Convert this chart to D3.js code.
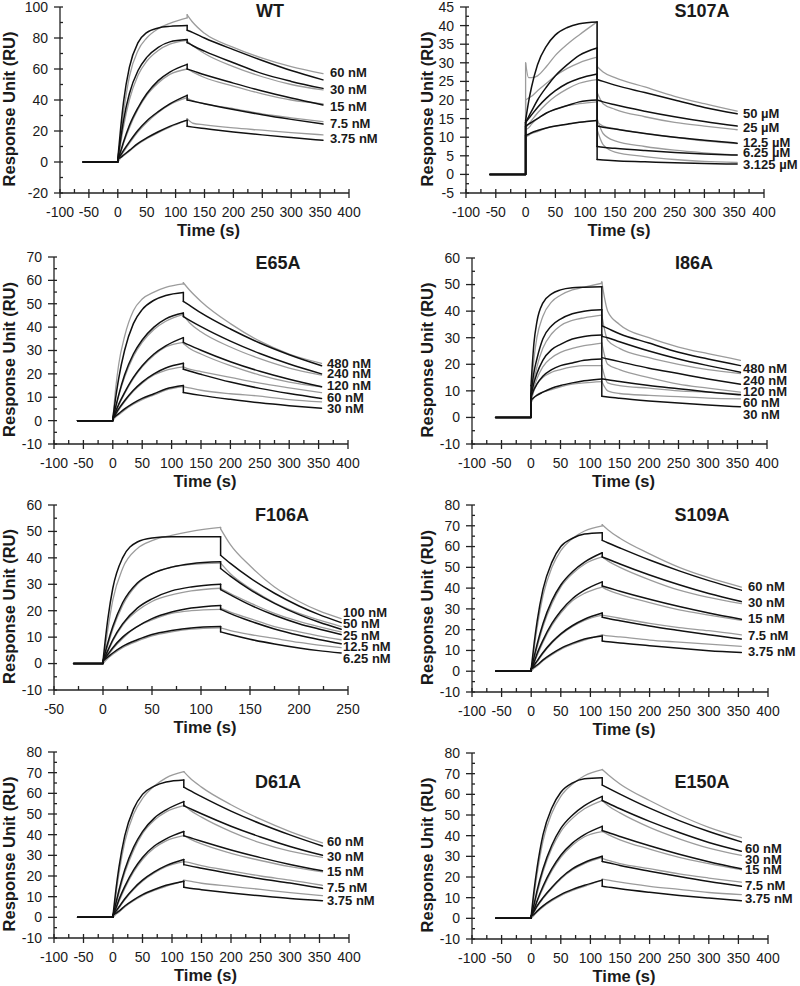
<!DOCTYPE html>
<html><head><meta charset="utf-8">
<script src="https://cdn.jsdelivr.net/npm/d3@7"></script>
<style>body{margin:0;background:#fff}svg{display:block}</style>
</head><body><svg id="c" width="800" height="986"></svg>
<script>
// ---------- DATA ----------
const panelNames = ["WT","S107A","E65A","I86A","F106A","S109A","D61A","E150A"];
const xDomains = [[-100,400],[-100,400],[-100,400],[-100,400],[-50,250],[-100,400],[-100,400],[-100,400]];
const yDomains = [[-20,100],[-5,45],[-10,70],[-10,60],[-10,60],[-10,80],[-10,80],[-10,80]];
const yTickSteps = [20,5,10,10,10,10,10,10];
const xTickSteps = [50,50,50,50,50,50,50,50];
const baselineStart = [-60,-60,-60,-60,-30,-60,-60,-60];
const tAssoc = [0,5,10,20,35,50,70,90,120];
const tDiss = [120,130,150,200,250,300,355];
const tDissF106A = [120,130,150,175,200,220,243];

const concNM = ["60 nM","30 nM","15 nM","7.5 nM","3.75 nM"];
const concS107A = ["50 µM","25 µM","12.5 µM","6.25 µM","3.125 µM"];
const concE65A = ["480 nM","240 nM","120 nM","60 nM","30 nM"];
const concF106A = ["100 nM","50 nM","25 nM","12.5 nM","6.25 nM"];

// label heights (RU)
const labelWT = [57.9,46.5,35.8,25.1,15.1];
const labelS107A = [16.5,12.7,8.6,5.8,2.8];
const labelE65A = [24.6,20.3,15,9.9,5];
const labelI86A = [18.3,14.1,9.9,5.8,1.3];
const labelF106A = [19.3,15,10.6,6.4,2];
const labelS109A = [40.6,33,25.3,17.3,9.3];
const labelD61A = [36.5,29.5,22.3,14.7,8.2];
const labelE150A = [34,28.6,23.5,15.9,9.7];

// WT
const wtFitA = [[2,22,39,61,77,83.5,86.5,87.5,88],[2,15,27,44,59,67.5,74,77.5,79],[2,7,13,23.5,35,44,52.5,58,63],[2,4.5,7.5,13,20.5,26.5,32.5,37.5,43],[2,3,4.5,7.5,12,15.5,19.5,23,27]];
const wtFitD = [[85,83.5,80,72.5,65.5,59,53],[77,75,71.5,64,57,52,47.5],[60,58.8,56.3,50.9,45.8,41.3,36.8],[40,39.2,37.6,33.9,30.5,27.5,24.5],[23,22.5,21.6,19.4,17.5,15.8,14]];
const wtExpA = [[0,17,32,55,72,80,86,89.5,93],[0,12,23,40,56,65,72,76,78.5],[0,6,12,22,34,43,51,56.5,60],[0,3.5,6.5,12,19.5,25.5,32,37,41.5],[0,2.5,4,7,11.5,15,19,22.5,27]];
const wtExpD = [[95,90,83,74,67,61.5,57],[78,75,70,61.5,55,50,46.5],[60,58,54.5,49,44,40,37.5],[41,39.5,37.5,34.5,31,28.5,26],[28,25,24,22,20.5,19,17.5]];
// S107A
const s107FitA = [[14.5,19.5,23.5,29.5,34.5,37.5,39.5,40.5,41],[14,15.5,17,20,23.5,26.5,29.5,32,34],[14,15,16,18,20.5,22.5,24.5,25.8,27],[13,13.5,14,15,16.5,17.5,18.5,19.5,20],[10.5,10.8,11.2,11.8,12.5,13,13.5,14,14.5]];
const s107FitD = [[25.5,25,24,22,20,18,16.3],[20,19.5,18.7,17,15.5,14.2,13],[13,12.7,12.2,11,10,9.2,8.4],[7.5,7.3,7,6.4,5.9,5.5,5.2],[4,3.9,3.7,3.4,3.1,2.9,2.8]];
const s107ExpA = [[30,26,26,26.5,29,32,35,37.5,41],[20,20.5,21,22.5,24.5,26.5,28.5,30,31.5],[12.5,13.5,14.5,16.5,19,21,23,24.5,25.5],[12,12.5,13.5,15,16.5,17.5,18.5,19,19.5],[10,10.5,11,11.5,12.5,13,13.5,14,14.5]];
const s107ExpD = [[29,27.5,26,23.5,21,19,17],[22,19,17.5,15.5,14,13,12],[14,13,12.3,11,10,9,8.3],[15,11,9,7.5,6.5,5.8,5.2],[12,8,6,4.8,4,3.5,3.2]];
// E65A
const e65FitA = [[1,10,18,30,41.5,47.5,51.5,53.5,54.8],[1,6,11,19.5,28.5,34.5,40,43.5,46],[1,4,7,12,18.5,23.5,28.5,32,35.5],[1,3,5,8.5,13,16.5,20,22.5,24.5],[1,2,3,5,7.5,9.5,11.5,13.5,15]];
const e65FitD = [[51,49.4,46.1,39.2,33.2,28.2,23.5],[44.5,43,40.2,34,28.7,24.2,20],[33.5,32.3,30.1,25.2,21.1,17.7,14.5],[22,21.2,19.8,16.5,13.8,11.6,9.5],[12,11.6,10.8,9.1,7.6,6.4,5.3]];
const e65ExpA = [[0,14,24,36,47,52,55,57,58.5],[0,5.5,10.5,18.5,27.5,33.5,39,42.5,45.5],[0,3.5,6.5,11.5,18,23,28,31.5,33.5],[0,2.5,4.5,8,12.5,16,19.5,21.5,23],[0,1.5,2.5,4.5,7,9,11,13,14.5]];
const e65ExpD = [[59,56,51,41.5,34,28.5,24.5],[45,42,38,31.5,26.5,22.5,19.5],[33,31,28.5,23.5,19.5,16.5,14.5],[23,22,21,18.5,16,14,12],[14.5,14,13,11.5,10.5,9,8]];
// I86A
const i86FitA = [[12,28,36,43,46.5,48,48.8,49,49.2],[9,17,22,29.5,34.5,37,39,40,40.5],[8,13,16.5,21.5,25.5,27.5,29.5,30.5,31],[7.5,10.5,12.5,15.5,18,19.5,20.5,21.5,22],[6.5,7.5,8.3,9.5,11,12,13,13.8,14.5]];
const i86FitD = [[34.5,33.5,31.5,28,24.5,22,19.5],[30.5,30,28.5,25,22,19.5,17],[22.5,22,21,18.5,16.5,14.5,12.5],[14.5,14.2,13.5,12,10.8,9.6,8.5],[8,7.7,7.2,6.2,5.4,4.7,4]];
const i86ExpA = [[8,22,30,38,43.5,46,48,49,50.5],[7,14,19,26,31.5,34.5,36.5,37.5,38.5],[6,11,14.5,19,22.5,24.5,26,27,28],[6,10,12.5,15,17,18,19,19.5,19.5],[5.5,7.5,8.5,9.5,10.5,11.5,12.5,13,13.5]];
const i86ExpD = [[51,40,35,30,26.5,24,21.5],[38.5,29,26,22.5,20,18,16.5],[28,20,18,15,12.5,11,9.5],[19.5,13,12,11,10,9.5,8.8],[13.5,10,9,8.3,7.8,7.3,7]];
// F106A
const f106FitA = [[1,17,28.5,40,46,47.5,48,48,48],[1,8,14,23,30.5,34,36.5,37.8,38.5],[1,5,9,15,21,24.5,27.5,29,30],[1,3.5,6,10,14,17,19.5,21,22],[1,2.5,4,6.5,9,11,12.5,13.5,14]];
const f106FitD = [[41,37.9,32.4,26.6,21.8,18.6,15.5],[36,33.1,28,22.8,18.5,15.7,13],[28,26,22.2,18.3,15.1,13.1,11],[20.5,18.9,16.1,13.1,10.7,9.1,7.5],[12,11,9.2,7.4,5.9,4.9,4]];
const f106ExpA = [[0,13,24,36,43.5,46.5,48.5,50,51.5],[0,7,13,22,30,34,36.5,37.5,38],[0,4.5,8.5,14.5,20,23.5,26,27.5,28.5],[0,3,5.5,9.5,14,16.5,19,20,20.5],[0,2,3.5,6,8.5,10.5,12,13,13.5]];
const f106ExpD = [[51,45,37,29,23.5,20,17],[38,34,28.5,23,19,16.5,14],[28.5,26.5,23,19,16,14,12],[21,19.5,17,14,12,10.5,9],[13.5,12.5,11,9.5,8,7,6]];
// S109A
const s109FitA = [[1,13.5,24,39.5,52.5,60,64,66,66.7],[1,7,13,23,34,41.5,48,52.5,57],[1,4.5,8.5,15,23,29,35,39,43],[1,3,5,9,14,18,22,25,28],[1,2,3,5.5,8.5,11,13.5,15.5,17]];
const s109FitD = [[63,61.7,59.3,53.5,48.3,43.6,39],[55,53.9,51.6,46.3,41.6,37.4,33.5],[41,40.2,38.5,34.6,31.1,28,25],[26,25.4,24.3,21.8,19.6,17.5,15.5],[14.5,14.2,13.6,12.3,11,9.9,9]];
const s109ExpA = [[0,11,21,36.5,50,58,64,67.5,70],[0,6,11.5,21.5,32.5,40.5,47,51.5,55],[0,4,7.5,14,22,28,34,37.5,40.5],[0,2.5,4.5,8.5,13.5,17.5,21.5,24.5,27],[0,1.5,2.5,5,8,10.5,13,15,17.5]];
const s109ExpD = [[70.5,68,64,56.5,50,45,40.5],[55,53,50,44,39,35.5,32.5],[40.5,39,37,33,29.5,27,24.5],[27,26.5,25.5,23,21,19.5,17.5],[17.5,17,16.5,15,14,13,12]];
// D61A
const d61FitA = [[1,13.5,24,39.5,52.5,59.5,63.5,65.5,66.5],[1,7,13,23,34,41.5,48,52,56],[1,4.5,8.5,15,23,29,34.5,38,41.5],[1,3,5,9,14,18,22,25,28],[1,2,3,5.5,8.5,11,13.5,15.5,17.5]];
const d61FitD = [[63,61.4,58.4,51.4,45.3,39.9,34.5],[54,52.7,50.1,44.1,38.9,34.3,30],[39.5,38.6,36.8,32.6,28.9,25.6,22.5],[25.5,24.9,23.8,21.1,18.7,16.6,14],[14.5,14.1,13.4,11.8,10.4,9.1,8]];
const d61ExpA = [[0,11,21,36.5,50,57.5,63.5,67.5,70.5],[0,6,11.5,21.5,32.5,40.5,47,51,54],[0,4,7.5,14,22,28,33.5,37,39.5],[0,2.5,4.5,8.5,13.5,17.5,21.5,24.5,27],[0,1.5,2.5,5,8,10.5,13,15,17.5]];
const d61ExpD = [[70.5,67.5,63,54.5,47.5,41.5,36],[54.5,52,48.5,41.5,36,32,29],[39.5,38,35.5,31,27.5,24.5,22],[27,26.5,25,22.5,20,18,15.5],[18,17.5,16.5,15,13.5,12,10.5]];
// E150A
const e150FitA = [[1,14,24.5,40.5,53.5,61,65.5,67.5,68],[1,7,13.5,24,35.5,43.5,50,54.5,59],[1,4.5,8.5,15.5,24,30.5,36.5,40.5,44.5],[1,3.5,6,10,15,19.5,24,27,30],[1,2,3.5,6,9,11.5,14,16,18.5]];
const e150FitD = [[64.5,63,60.1,53.3,47.3,42,37],[57,55.7,53,46.9,41.5,36.7,32.5],[42.5,41.5,39.6,35.1,31,27.4,24],[27.5,26.9,25.6,22.8,20.2,17.8,15.5],[15.5,15.1,14.3,12.6,11.1,9.8,8.5]];
const e150ExpA = [[0,11.5,21.5,37.5,51,59,65,69,72],[0,6,12,22.5,34,42,48.5,53,57],[0,4,8,14.5,23,29.5,35.5,39.5,42],[0,3,5.5,9.5,14.5,19,23.5,26.5,29.5],[0,1.5,3,5.5,8.5,11,13.5,15.5,18.5]];
const e150ExpD = [[72,69.5,65,57,50,44,39],[57,54.5,51,44,38.5,34,30.5],[42,40.5,38,33.5,29.5,26.5,23.5],[29,28,26.5,24,21.5,19.5,17.5],[19,18.5,17.5,15.5,14,12.5,11.5]];

// ---------- LAYOUT ----------
const layout = [
  {l:60,t:7,r:349,b:193},{l:466,t:7,r:764,b:193},
  {l:54,t:257,r:348,b:444},{l:472,t:258,r:767,b:444},
  {l:54,t:505,r:348,b:690},{l:472,t:505,r:768,b:692},
  {l:54,t:752,r:349,b:938},{l:472,t:753,r:768,b:939}
];
const titleCenters = [[270,11],[702,11],[278,263],[694,263],[282,515],[702,515],[278,782],[702,782]];
const concLabelX = [330,743,327,743,343,748,327,745];
const yTitleX = [9,427,9,427,9,427,9,427];

const panels = [
  {fa:wtFitA,fd:wtFitD,ea:wtExpA,ed:wtExpD,conc:concNM,lab:labelWT,td:tDiss},
  {fa:s107FitA,fd:s107FitD,ea:s107ExpA,ed:s107ExpD,conc:concS107A,lab:labelS107A,td:tDiss},
  {fa:e65FitA,fd:e65FitD,ea:e65ExpA,ed:e65ExpD,conc:concE65A,lab:labelE65A,td:tDiss},
  {fa:i86FitA,fd:i86FitD,ea:i86ExpA,ed:i86ExpD,conc:concE65A,lab:labelI86A,td:tDiss},
  {fa:f106FitA,fd:f106FitD,ea:f106ExpA,ed:f106ExpD,conc:concF106A,lab:labelF106A,td:tDissF106A},
  {fa:s109FitA,fd:s109FitD,ea:s109ExpA,ed:s109ExpD,conc:concNM,lab:labelS109A,td:tDiss},
  {fa:d61FitA,fd:d61FitD,ea:d61ExpA,ed:d61ExpD,conc:concNM,lab:labelD61A,td:tDiss},
  {fa:e150FitA,fd:e150FitD,ea:e150ExpA,ed:e150ExpD,conc:concNM,lab:labelE150A,td:tDiss}
];

// ---------- DRAW ----------
const FONT = "Arial, 'Liberation Sans', Helvetica, sans-serif";
const svg = d3.select("#c");
const GRAY = "#9c9c9c", BLACK = "#111";

panels.forEach((p, i) => {
  const L = layout[i];
  const x = d3.scaleLinear().domain(xDomains[i]).range([L.l, L.r]);
  const y = d3.scaleLinear().domain(yDomains[i]).range([L.b, L.t]);
  const g = svg.append("g");
  const lineM = d3.line().x(d => x(d[0])).y(d => y(d[1])).curve(d3.curveMonotoneX);
  const lineL = d3.line().x(d => x(d[0])).y(d => y(d[1]));

  function drawCurve(A, D, color, w) {
    const assoc = tAssoc.map((t, k) => [t, A[k]]);
    const diss = p.td.map((t, k) => [t, D[k]]);
    const s = g.append("g").attr("fill", "none").attr("stroke", color).attr("stroke-width", w)
      .attr("stroke-linejoin", "round").attr("stroke-linecap", "round");
    s.append("path").attr("d", lineL([[baselineStart[i], 0], [0, 0], [0, A[0]]]));
    s.append("path").attr("d", lineM(assoc));
    s.append("path").attr("d", lineL([[tAssoc[tAssoc.length - 1], A[A.length - 1]], [p.td[0], D[0]]]));
    s.append("path").attr("d", lineM(diss));
  }
  p.ea.forEach((A, k) => drawCurve(A, p.ed[k], GRAY, 1.3));
  p.fa.forEach((A, k) => drawCurve(A, p.fd[k], BLACK, 1.5));

  // axes
  const ax = g.append("g").attr("stroke", "#222").attr("stroke-width", 1.3);
  const [y0, y1] = yDomains[i], [x0, x1] = xDomains[i];
  ax.append("line").attr("x1", L.l).attr("x2", L.l).attr("y1", y(y0)).attr("y2", y(y1));
  ax.append("line").attr("x1", x(x0)).attr("x2", x(x1)).attr("y1", L.b).attr("y2", L.b);
  const ys = yTickSteps[i], xs = xTickSteps[i];
  const yMaj = d3.range(y0, y1 + ys / 2, ys);
  const yMin = d3.range(y0 + ys / 2, y1, ys);
  const xMaj = d3.range(x0, x1 + xs / 2, xs);
  const xMin = d3.range(x0 + xs / 2, x1, xs);
  yMaj.forEach(v => ax.append("line").attr("x1", L.l - 6).attr("x2", L.l + 3).attr("y1", y(v)).attr("y2", y(v)));
  yMin.forEach(v => ax.append("line").attr("x1", L.l).attr("x2", L.l + 3).attr("y1", y(v)).attr("y2", y(v)));
  xMaj.forEach(v => ax.append("line").attr("x1", x(v)).attr("x2", x(v)).attr("y1", L.b - 4).attr("y2", L.b + 5));
  xMin.forEach(v => ax.append("line").attr("x1", x(v)).attr("x2", x(v)).attr("y1", L.b - 4).attr("y2", L.b));

  const txt = g.append("g").attr("font-family", FONT).attr("fill", "#1a1a1a");
  yMaj.forEach(v => txt.append("text").attr("x", L.l - 12).attr("y", y(v)).attr("dy", "0.35em")
    .attr("text-anchor", "end").attr("font-size", 14).text(v));
  xMaj.forEach(v => txt.append("text").attr("x", x(v)).attr("y", L.b + 24)
    .attr("text-anchor", "middle").attr("font-size", 14).text(v));
  txt.append("text").attr("x", (L.l + L.r) / 2 + 4).attr("y", L.b + 43).attr("text-anchor", "middle")
    .attr("font-size", 16.5).attr("font-weight", "bold").text("Time (s)");
  const yc = (L.t + L.b) / 2 + 9;
  txt.append("text").attr("transform", `translate(${yTitleX[i]},${yc}) rotate(-90)`).attr("dy", "0.35em")
    .attr("text-anchor", "middle").attr("font-size", 16.5).attr("font-weight", "bold").text("Response Unit (RU)");
  txt.append("text").attr("x", titleCenters[i][0]).attr("y", titleCenters[i][1]).attr("dy", "0.35em")
    .attr("text-anchor", "middle").attr("font-size", 18).attr("font-weight", "bold").text(panelNames[i]);
  p.conc.forEach((c, k) => txt.append("text").attr("x", concLabelX[i]).attr("y", y(p.lab[k])).attr("dy", "0.35em")
    .attr("font-size", 13).attr("font-weight", "bold").text(c));
});
</script></body></html>
